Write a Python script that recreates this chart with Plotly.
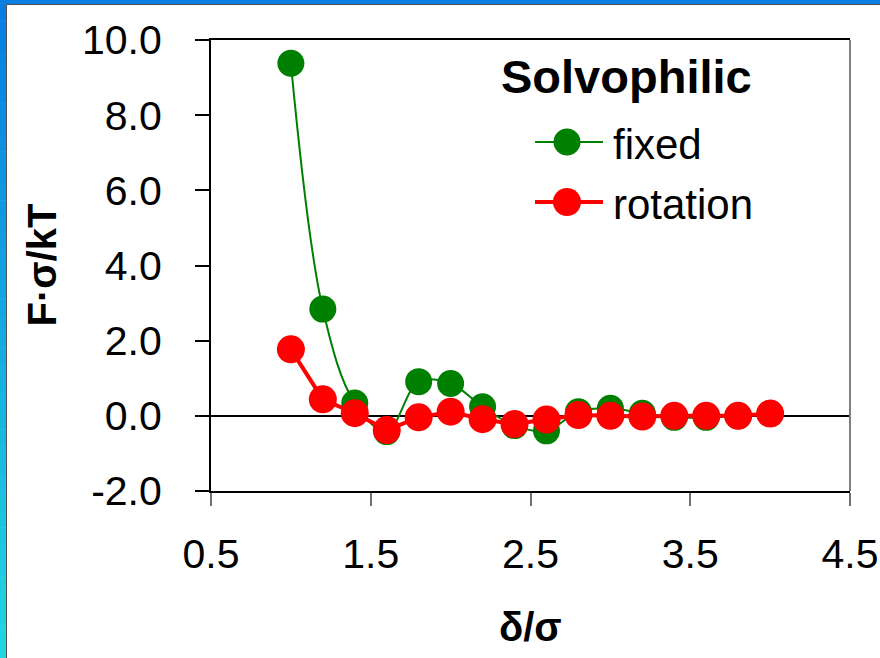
import plotly.graph_objects as go

# Separation distance (delta / sigma) and force (F*sigma / kT)
x_sep = [1.0, 1.2, 1.4, 1.6, 1.8, 2.0, 2.2, 2.4, 2.6, 2.8, 3.0, 3.2, 3.4, 3.6, 3.8, 4.0]
force_fixed = [9.38, 2.84, 0.34, -0.42, 0.91, 0.86, 0.24, -0.26, -0.40, 0.11, 0.20, 0.07, -0.04, -0.04, 0.00, 0.06]
force_rotation = [1.77, 0.44, 0.07, -0.38, -0.04, 0.11, -0.09, -0.22, -0.10, 0.02, 0.00, -0.02, 0.00, 0.00, 0.00, 0.06]

x_ticks = [0.5, 1.5, 2.5, 3.5, 4.5]
x_tick_labels = ["0.5", "1.5", "2.5", "3.5", "4.5"]
y_ticks = [-2, 0, 2, 4, 6, 8, 10]
y_tick_labels = ["-2.0", "0.0", "2.0", "4.0", "6.0", "8.0", "10.0"]

legend_title = "Solvophilic"
series_names = ["fixed", "rotation"]

FONT = "Liberation Sans, Arial, sans-serif"
GREEN = "#008000"
RED = "#ff0000"
styles = {
    "fixed": dict(color=GREEN, width=2, size=27, shape="spline"),
    "rotation": dict(color=RED, width=4, size=28, shape="linear"),
}

W, H = 880, 658
L, R, T, B = 211, 30, 40, 167
PW, PH = W - L - R, H - T - B


def px_x(px):
    return (px - L) / PW


def px_y(py):
    return (H - B - py) / PH


fig = go.Figure()
for name, yvals in zip(series_names, [force_fixed, force_rotation]):
    st = styles[name]
    fig.add_trace(go.Scatter(
        x=x_sep, y=yvals, name=name, mode="lines+markers",
        line=dict(color=st["color"], width=st["width"], shape=st["shape"], smoothing=1),
        marker=dict(color=st["color"], size=st["size"], line=dict(width=0)),
        showlegend=False, cliponaxis=False,
    ))

shapes = []
# slide frame: blue bars on the top and left edges
shapes.append(dict(type="rect", xref="paper", yref="paper",
                   x0=px_x(0), x1=px_x(W), y0=px_y(0), y1=px_y(4.5),
                   fillcolor="#0a80e2", line=dict(width=0), layer="below"))
n_steps = 40
c_top = (8, 126, 226)
c_bot = (32, 214, 224)
for i in range(n_steps):
    t = i / (n_steps - 1)
    c = tuple(round(a + (b - a) * t) for a, b in zip(c_top, c_bot))
    y0 = 4 + (H - 4) * i / n_steps
    y1 = min(H, 4 + (H - 4) * (i + 1) / n_steps + 0.5)
    shapes.append(dict(type="rect", xref="paper", yref="paper",
                       x0=px_x(0), x1=px_x(6.5), y0=px_y(y0), y1=px_y(y1),
                       fillcolor="rgb(%d,%d,%d)" % c, line=dict(width=0), layer="below"))
shapes.append(dict(type="line", xref="paper", yref="paper",
                   x0=px_x(6.5), x1=px_x(W), y0=px_y(4.5), y1=px_y(4.5),
                   line=dict(color="#505050", width=1)))
shapes.append(dict(type="line", xref="paper", yref="paper",
                   x0=px_x(6.5), x1=px_x(6.5), y0=px_y(4.5), y1=px_y(H),
                   line=dict(color="#505050", width=1)))
# right border of the plot area
shapes.append(dict(type="line", xref="paper", yref="paper",
                   x0=1, x1=1, y0=0, y1=1, line=dict(color="#808080", width=2)))

# legend block
legend_x0, legend_x1, legend_xc = 535, 603, 567
legend_rows = {"fixed": 142, "rotation": 202}
annotations = [dict(text="<b>%s</b>" % legend_title, xref="paper", yref="paper",
                    x=px_x(499), y=px_y(76), xanchor="left", yanchor="middle",
                    showarrow=False, font=dict(family=FONT, size=47, color="black"))]
for name in series_names:
    st = styles[name]
    yy = legend_rows[name]
    shapes.append(dict(type="line", xref="paper", yref="paper",
                       x0=px_x(legend_x0), x1=px_x(legend_x1), y0=px_y(yy), y1=px_y(yy),
                       line=dict(color=st["color"], width=st["width"])))
    r = st["size"] / 2
    shapes.append(dict(type="circle", xref="paper", yref="paper",
                       xsizemode="pixel", ysizemode="pixel",
                       xanchor=px_x(legend_xc), yanchor=px_y(yy),
                       x0=-r, x1=r, y0=-r, y1=r,
                       fillcolor=st["color"], line=dict(width=0)))
    annotations.append(dict(text=name, xref="paper", yref="paper",
                            x=px_x(611), y=px_y(yy + 2), xanchor="left", yanchor="middle",
                            showarrow=False, font=dict(family=FONT, size=42, color="black")))

# axis titles
annotations.append(dict(text="<b>F·σ/kT</b>", xref="paper", yref="paper",
                        x=px_x(41), y=0.5, xanchor="center", yanchor="middle",
                        textangle=-90, showarrow=False,
                        font=dict(family=FONT, size=40, color="black")))
annotations.append(dict(text="<b>δ/σ</b>", xref="paper", yref="paper",
                        x=0.5, y=px_y(627), xanchor="center", yanchor="middle",
                        showarrow=False, font=dict(family=FONT, size=40, color="black")))

fig.update_layout(
    width=W, height=H,
    margin=dict(l=L, r=R, t=T, b=B, pad=0, autoexpand=False),
    paper_bgcolor="white", plot_bgcolor="white",
    font=dict(family=FONT, color="black"),
    showlegend=False,
    shapes=shapes, annotations=annotations,
    xaxis=dict(range=[0.5, 4.5], tickmode="array", tickvals=x_ticks, ticktext=x_tick_labels,
               ticks="outside", ticklen=13, tickwidth=1.5, tickcolor="#707070",
               showline=True, linecolor="black", linewidth=2, mirror=True,
               showgrid=False, zeroline=False, ticklabelstandoff=13, automargin=False,
               tickfont=dict(family=FONT, size=41, color="black")),
    xaxis2=dict(range=[0.5, 4.5], overlaying="x", anchor="y", side="bottom",
                tickmode="array", tickvals=x_ticks, ticks="inside", ticklen=13,
                tickwidth=1.5, tickcolor="#707070", showticklabels=False,
                showline=False, showgrid=False, zeroline=False, automargin=False),
    yaxis=dict(range=[-2, 10], tickmode="array", tickvals=y_ticks, ticktext=y_tick_labels,
               ticks="outside", ticklen=14, tickwidth=1.5, tickcolor="black",
               showline=True, linecolor="black", linewidth=2,
               showgrid=False, zeroline=True, zerolinecolor="black", zerolinewidth=2,
               ticklabelstandoff=25, automargin=False,
               tickfont=dict(family=FONT, size=41, color="black")),
)

fig.write_html("out.html")
